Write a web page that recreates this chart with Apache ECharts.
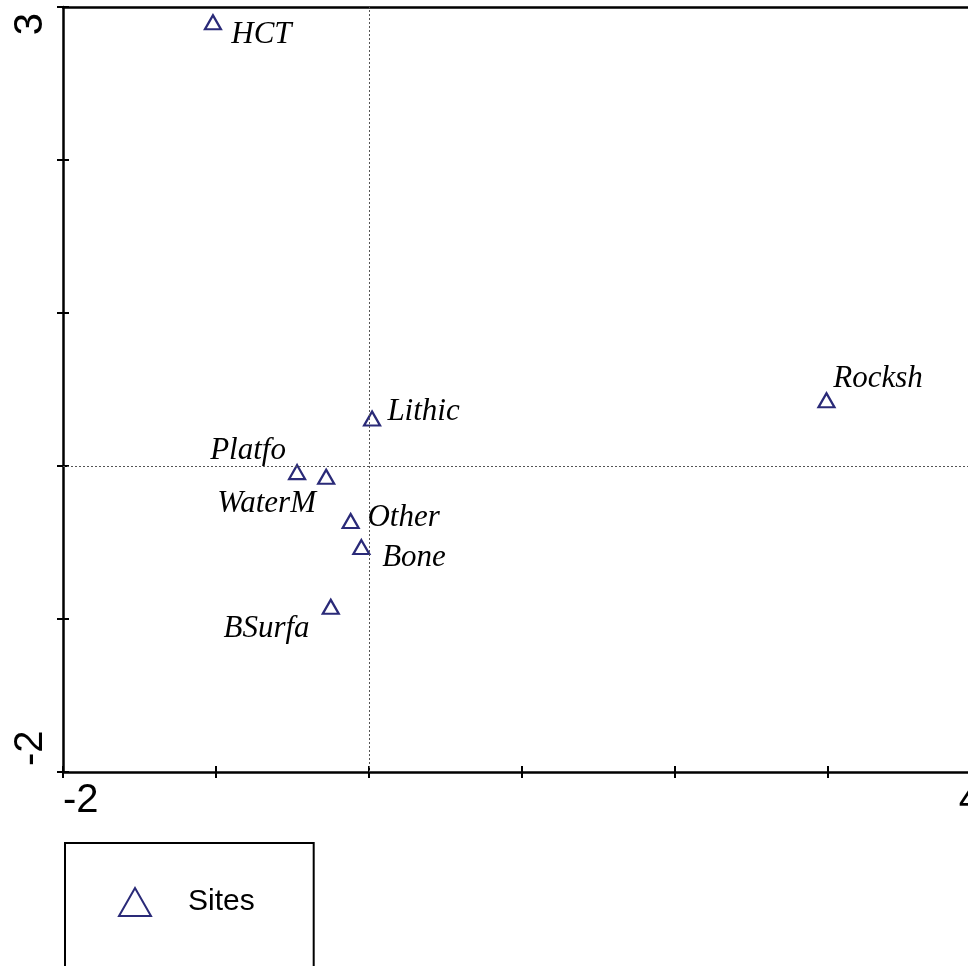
<!DOCTYPE html>
<html>
<head>
<meta charset="utf-8">
<script src="https://cdn.jsdelivr.net/npm/echarts@6/dist/echarts.min.js"></script>
<style>
html,body{margin:0;padding:0;background:#fff;}
#chart{width:968px;height:966px;}
</style>
</head>
<body>
<div id="chart"></div>
<script>
// ---- data ----
const seriesName = 'Sites';
const siteNames = ['HCT', 'Lithic', 'Platfo', 'WaterM', 'Other', 'Bone', 'BSurfa', 'Rocksh'];
const axis1Values = [-1.02, 0.02, -0.47, -0.28, -0.12, -0.05, -0.25, 2.99];
const axis2Values = [2.90, 0.31, -0.04, -0.07, -0.36, -0.53, -0.92, 0.43];
const xTickLabels = [-2, 4];
const yTickLabels = [-2, 3];

// ---- layout / style (not data) ----
const labelLayout = {
  HCT:    { align: 'left',  pos: [27.5, 21] },
  Lithic: { align: 'left',  pos: [24.5, 1] },
  Platfo: { align: 'right', pos: [-2, -13] },
  WaterM: { align: 'right', pos: [-1, 35] },
  Other:  { align: 'left',  pos: [26, 5] },
  Bone:   { align: 'left',  pos: [30, 19] },
  BSurfa: { align: 'right', pos: [-12, 30] },
  Rocksh: { align: 'left',  pos: [16, -13] }
};
const navy = '#2a2a78';
const X_MIN = -2, X_MAX = 4, Y_MIN = -2, Y_MAX = 3;

const points = siteNames.map((n, i) => ({
  name: n,
  value: [axis1Values[i], axis2Values[i]],
  label: {
    show: true,
    formatter: n,
    position: labelLayout[n].pos,
    align: labelLayout[n].align,
    verticalAlign: 'middle'
  }
}));

const axisLineStyle = { color: '#000', width: 2.5 };

const chart = echarts.init(document.getElementById('chart'), null, { renderer: 'canvas' });
chart.setOption({
  animation: false,
  backgroundColor: '#fff',
  grid: { left: 63, top: 7, width: 918, height: 765, containLabel: false, outerBoundsMode: 'none' },
  xAxis: [
    {
      type: 'value', position: 'bottom', min: X_MIN, max: X_MAX, interval: 1,
      axisLine: { show: true, onZero: false, lineStyle: axisLineStyle },
      axisTick: { show: true, inside: false, length: 6, lineStyle: { color: '#000', width: 2 } },
      splitLine: { show: false },
      axisLabel: {
        show: true, margin: 9, color: '#000', fontSize: 40,
        fontFamily: '"Liberation Sans", Arial, sans-serif',
        alignMinLabel: 'left', alignMaxLabel: 'right',
        formatter: v => xTickLabels.indexOf(v) >= 0 ? String(v) : ''
      }
    },
    {
      type: 'value', position: 'bottom', min: X_MIN, max: X_MAX, interval: 1,
      axisLine: { show: false, onZero: false },
      axisTick: { show: true, inside: true, length: 6, lineStyle: { color: '#000', width: 2 } },
      splitLine: { show: false }, axisLabel: { show: false }
    },
    {
      type: 'value', position: 'top', min: X_MIN, max: X_MAX, interval: 1,
      axisLine: { show: true, onZero: false, lineStyle: axisLineStyle },
      axisTick: { show: false }, splitLine: { show: false }, axisLabel: { show: false }
    }
  ],
  yAxis: [
    {
      type: 'value', position: 'left', min: Y_MIN, max: Y_MAX, interval: 1,
      axisLine: { show: true, onZero: false, lineStyle: axisLineStyle },
      axisTick: { show: true, inside: false, length: 6, lineStyle: { color: '#000', width: 2 } },
      splitLine: { show: false },
      axisLabel: {
        show: true, rotate: 90, margin: 12, color: '#000', fontSize: 40,
        fontFamily: '"Liberation Sans", Arial, sans-serif',
        alignMinLabel: 'left', alignMaxLabel: 'right',
        padding: [0, 6, 0, 6],
        formatter: v => yTickLabels.indexOf(v) >= 0 ? String(v) : ''
      }
    },
    {
      type: 'value', position: 'left', min: Y_MIN, max: Y_MAX, interval: 1,
      axisLine: { show: false, onZero: false },
      axisTick: { show: true, inside: true, length: 6, lineStyle: { color: '#000', width: 2 } },
      splitLine: { show: false }, axisLabel: { show: false }
    }
  ],
  legend: {
    show: true,
    left: 65, top: 843,
    orient: 'vertical',
    padding: [44, 59, 120, 53],
    borderColor: '#000', borderWidth: 2,
    itemWidth: 32, itemHeight: 28,
    data: [{ name: seriesName, icon: 'triangle' }],
    itemStyle: { color: '#fff', borderColor: navy, borderWidth: 2 },
    textStyle: { fontSize: 30, color: '#000', fontFamily: '"Liberation Sans", Arial, sans-serif', padding: [0, 0, 0, 32] }
  },
  series: [
    {
      name: seriesName,
      type: 'scatter',
      xAxisIndex: 0, yAxisIndex: 0,
      symbol: 'triangle',
      symbolSize: [16, 14],
      itemStyle: { color: '#fff', borderColor: navy, borderWidth: 2.2, opacity: 1 },
      label: {
        color: '#000', fontSize: 31, fontStyle: 'italic',
        fontFamily: '"Liberation Serif", "Times New Roman", serif'
      },
      emphasis: { disabled: true },
      data: points,
      markLine: {
        silent: true, symbol: 'none', animation: false,
        label: { show: false },
        lineStyle: { color: '#555', width: 1, type: [2, 2] },
        data: [{ xAxis: 0 }, { yAxis: 0 }]
      },
      z: 3
    }
  ]
});
</script>
</body>
</html>
